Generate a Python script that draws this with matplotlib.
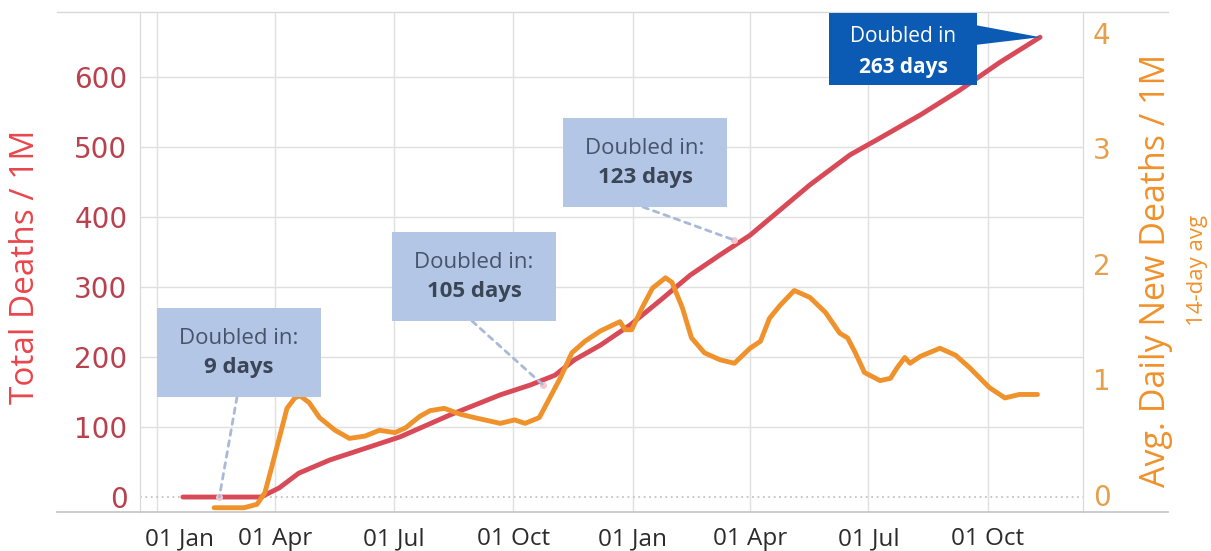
import matplotlib
matplotlib.use("Agg")
import matplotlib.pyplot as plt
import matplotlib.dates as mdates
import pandas as pd
from matplotlib.patches import Rectangle, Polygon, ConnectionPatch
from matplotlib.lines import Line2D
from matplotlib.transforms import ScaledTranslation

# total deaths per 1M (left axis)
total_dates = ['2020-01-21', '2020-03-21', '2020-04-04', '2020-04-19', '2020-05-13',
               '2020-06-05', '2020-07-06', '2020-08-13', '2020-09-21', '2020-10-14',
               '2020-11-02', '2020-11-17', '2020-12-07', '2020-12-30', '2021-01-22',
               '2021-02-14', '2021-03-09', '2021-04-01', '2021-04-24', '2021-05-17',
               '2021-06-17', '2021-07-10', '2021-08-10', '2021-09-09', '2021-10-10',
               '2021-11-10']
total_deaths = [0, 0, 13, 34, 53, 67, 86, 117, 146, 160, 174, 196, 217, 246, 281,
                317, 346, 374, 410, 446, 489, 513, 546, 581, 621, 657]

# avg daily new deaths per 1M, 14-day avg (right axis)
daily_dates = ['2020-02-14', '2020-03-08', '2020-03-18', '2020-03-24', '2020-03-29',
               '2020-04-04', '2020-04-10', '2020-04-16', '2020-04-20', '2020-04-27',
               '2020-05-05', '2020-05-17', '2020-05-28', '2020-06-09', '2020-06-20',
               '2020-07-02', '2020-07-10', '2020-07-21', '2020-07-29', '2020-08-09',
               '2020-08-21', '2020-09-01', '2020-09-13', '2020-09-21', '2020-10-02',
               '2020-10-10', '2020-10-21', '2020-10-29', '2020-11-06', '2020-11-15',
               '2020-11-25', '2020-12-07', '2020-12-22', '2020-12-26', '2020-12-31',
               '2021-01-08', '2021-01-16', '2021-01-26', '2021-01-31', '2021-02-08',
               '2021-02-15', '2021-02-25', '2021-03-09', '2021-03-20', '2021-04-01',
               '2021-04-09', '2021-04-16', '2021-04-24', '2021-05-05', '2021-05-17',
               '2021-05-29', '2021-06-09', '2021-06-15', '2021-06-21', '2021-06-28',
               '2021-07-10', '2021-07-18', '2021-07-23', '2021-07-29', '2021-08-02',
               '2021-08-10', '2021-08-25', '2021-09-06', '2021-09-17', '2021-10-02',
               '2021-10-14', '2021-10-25', '2021-11-08']
daily_deaths = [-0.11, -0.11, -0.08, 0.02, 0.23, 0.49, 0.75, 0.84, 0.86, 0.80,
                0.67, 0.56, 0.49, 0.51, 0.56, 0.54, 0.58, 0.68, 0.73, 0.75,
                0.70, 0.67, 0.64, 0.62, 0.65, 0.62, 0.67, 0.84, 1.01, 1.23,
                1.33, 1.42, 1.50, 1.43, 1.43, 1.62, 1.79, 1.88, 1.84, 1.62,
                1.36, 1.23, 1.17, 1.14, 1.27, 1.33, 1.53, 1.64, 1.77, 1.71,
                1.58, 1.40, 1.36, 1.23, 1.06, 0.99, 1.01, 1.10, 1.19, 1.14,
                1.20, 1.27, 1.21, 1.10, 0.93, 0.84, 0.87, 0.87]

tick_dates = ['2020-01-01', '2020-04-01', '2020-07-01', '2020-10-01',
              '2021-01-01', '2021-04-01', '2021-07-01', '2021-10-01']
tick_labels = ['01 Jan', '01 Apr', '01 Jul', '01 Oct',
               '01 Jan', '01 Apr', '01 Jul', '01 Oct']
left_ticks = [0, 100, 200, 300, 400, 500, 600]
right_ticks = [0, 1, 2, 3, 4]

# doubling call-outs: label, point on the total line
dbl_labels = ['9 days', '105 days', '123 days']
dbl_dates = ['2020-02-18', '2020-10-24', '2021-03-20']
dbl_values = [0, 160, 367]
last_label = '263 days'

RED = '#d94a58'
ORANGE = '#f0922b'
W, H = 1211, 551
FONT = 'Open Sans'


def fx(x):
    return x / W


def fy(y):
    return 1 - y / H


fig = plt.figure(figsize=(12.11, 5.51), dpi=100)
ax = fig.add_axes([fx(140), fy(512), (1083 - 140) / W, (512 - 12) / H])
ax2 = ax.twinx()

td = pd.to_datetime(total_dates)
dd = pd.to_datetime(daily_dates)

ax.plot(td, total_deaths, color=RED, lw=3.5, solid_capstyle='round',
        solid_joinstyle='round', zorder=3)
ax2.plot(dd, daily_deaths, color=ORANGE, lw=3.5, solid_capstyle='round',
         solid_joinstyle='round', zorder=3)

ax.set_xlim(pd.Timestamp('2019-12-19'), pd.Timestamp('2021-12-13'))
ax.set_ylim(-21.4, 693)
ax2.set_ylim(-0.147, 4.18)

ax.set_xticks(pd.to_datetime(tick_dates))
ax.set_xticklabels(tick_labels, fontsize=17.5, color='#2b2b2b', family=FONT)
ax.set_yticks(left_ticks)
ax.set_yticklabels([str(t) for t in left_ticks], fontsize=20, color='#b8414d',
                   family='DejaVu Sans')
ax2.set_yticks(right_ticks)
ax2.set_yticklabels([str(t) for t in right_ticks], fontsize=20, color='#e6a04c',
                    family='DejaVu Sans')
ax.tick_params(axis='both', length=0)
ax.tick_params(axis='y', pad=9)
ax.tick_params(axis='x', pad=11)
ax2.tick_params(axis='y', length=0, pad=7)

# nudge first date label inside, as in the original
first = ax.get_xticklabels()[0]
first.set_transform(first.get_transform() + ScaledTranslation(23 / 100, 0, fig.dpi_scale_trans))

ax.grid(True, color='#e0e0e0', lw=1)
ax.set_axisbelow(True)
ax.yaxis.get_gridlines()[0].set_visible(False)
ax.axhline(0, color='#c4c4c4', lw=1.3, ls=(0, (1, 2)), zorder=1)

for s in ['top', 'bottom']:
    ax.spines[s].set_visible(False)
    ax2.spines[s].set_visible(False)
ax.spines['left'].set_color('#d8d8d8')
ax2.spines['left'].set_visible(False)
ax2.spines['right'].set_color('#d8d8d8')
ax.spines['right'].set_visible(False)

# long top / bottom rules
fig.add_artist(Line2D([fx(57), fx(1168)], [fy(12), fy(12)], color='#d8d8d8', lw=1))
fig.add_artist(Line2D([fx(57), fx(1168)], [fy(512), fy(512)], color='#c4c4c4', lw=1.2))

fig.text(fx(26), fy(267), 'Total Deaths / 1M', rotation=90, ha='center', va='center',
         fontsize=24, color='#e8464c', family=FONT)
fig.text(fx(1156), fy(270), 'Avg. Daily New Deaths / 1M', rotation=90, ha='center',
         va='center', fontsize=24.5, color=ORANGE, family=FONT)
fig.text(fx(1197), fy(270), '14-day avg', rotation=90, ha='center', va='center',
         fontsize=16, color=ORANGE, family=FONT)

# light call-out boxes
boxes = [(157, 308), (392, 232), (563, 118)]
bw, bh = 164, 89
for (bx, by), lab, d, v in zip(boxes, dbl_labels, dbl_dates, dbl_values):
    fig.add_artist(Rectangle((fx(bx), fy(by + bh)), bw / W, bh / H,
                             transform=fig.transFigure, facecolor='#b4c6e6',
                             edgecolor='none', zorder=5))
    cx = bx + bw / 2
    fig.text(fx(cx), fy(by + 30), 'Doubled in:', ha='center', va='center',
             fontsize=16, color='#44546a', family=FONT, zorder=6)
    fig.text(fx(cx), fy(by + 60), lab, ha='center', va='center', fontsize=16,
             fontweight='bold', color='#3a4656', family=FONT, zorder=6)
    con = ConnectionPatch(xyA=(fx(cx - 2), fy(by + bh)), coordsA=fig.transFigure,
                          xyB=(mdates.date2num(pd.Timestamp(d)), v), coordsB=ax.transData,
                          color='#a9b9d8', lw=2, ls=(0, (2, 2)), zorder=4)
    fig.add_artist(con)
    ax.plot(pd.Timestamp(d), v, 'o', ms=4, mfc='#f6c6cc', mec='#f6c6cc', zorder=4)

# dark call-out with pointer to last point
tip = ax.transData.transform((mdates.date2num(td[-1]), total_deaths[-1]))
tip = fig.transFigure.inverted().transform(tip)
dark = '#0b5bb5'
fig.add_artist(Rectangle((fx(829), fy(85)), (977 - 829) / W, (85 - 13) / H,
                         transform=fig.transFigure, facecolor=dark, edgecolor='none', zorder=5))
fig.add_artist(Polygon([(fx(975), fy(25)), (tip[0], tip[1]), (fx(975), fy(45))],
                       closed=True, transform=fig.transFigure, facecolor=dark,
                       edgecolor='none', zorder=5))
fig.text(fx(903), fy(37), 'Doubled in', ha='center', va='center', fontsize=15,
         color='white', family=FONT, zorder=6)
fig.text(fx(903), fy(67), last_label, ha='center', va='center', fontsize=15,
         fontweight='bold', color='white', family=FONT, zorder=6)

fig.savefig('out.png', dpi=100)
